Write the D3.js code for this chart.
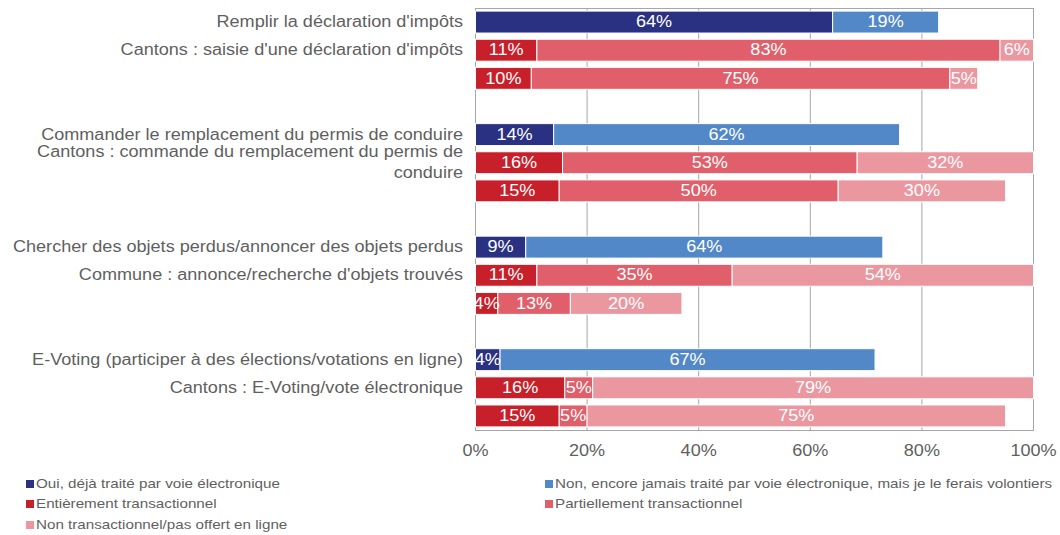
<!DOCTYPE html>
<html><head><meta charset="utf-8">
<script src="https://cdn.jsdelivr.net/npm/d3@7"></script>
<style>
html,body{margin:0;padding:0;background:#fff;}
svg{display:block;font-family:"Liberation Sans",Arial,sans-serif;}
</style></head>
<body><svg id="chart" width="1060" height="535"></svg>
<script>
// Row labels (empty strings are the spacer rows / unlabeled rows)
const categories = [
  "Remplir la déclaration d'impôts",
  "Cantons : saisie d'une déclaration d'impôts",
  "",
  "",
  "Commander le remplacement du permis de conduire",
  "Cantons : commande du remplacement du permis de\nconduire",
  "",
  "",
  "Chercher des objets perdus/annoncer des objets perdus",
  "Commune : annonce/recherche d'objets trouvés",
  "",
  "",
  "E-Voting (participer à des élections/votations en ligne)",
  "Cantons : E-Voting/vote électronique",
  ""
];
const seriesNames = [
  "Oui, déjà traité par voie électronique",
  "Non, encore jamais traité par voie électronique, mais je le ferais volontiers",
  "Entièrement transactionnel",
  "Partiellement transactionnel",
  "Non transactionnel/pas offert en ligne"
];
const oui      = [64, null, null, null, 14, null, null, null, 9, null, null, null, 4.4, null, null];
const non      = [19, null, null, null, 62, null, null, null, 64, null, null, null, 67.2, null, null];
const entier   = [null, 11, 10, null, null, 15.6, 15, null, null, 11, 4, null, null, 16, 15];
const partiel  = [null, 83, 75, null, null, 52.8, 50, null, null, 35, 13, null, null, 5, 5];
const nonTrans = [null, 6, 5, null, null, 31.6, 30, null, null, 54, 20, null, null, 79, 75];
const tickValues = [0, 20, 40, 60, 80, 100];

const colors = ["#2b3182", "#5288c7", "#c8202a", "#e05f6a", "#eb97a0"];
const seriesData = [oui, non, entier, partiel, nonTrans];

const SX = 1.13;      // horizontal stretch of text in the reference
const SXL = 1.17;     // legend text stretch

const svg = d3.select("#chart");
const margin = {left: 475, right: 27, top: 8, bottom: 105};
const W = 1060, H = 535;
const x = d3.scaleLinear().domain([0, 100]).range([margin.left, W - margin.right]);
const y = d3.scaleBand().domain(d3.range(categories.length))
  .range([margin.top, H - margin.bottom]).paddingInner(0.22).paddingOuter(0.11);

function stretchText(sel, tx, ty, sx) {
  return sel.attr("x", 0).attr("y", 0)
    .attr("transform", `translate(${tx},${ty}) scale(${sx},1)`);
}

const gridColor = "#a6a6a6";
svg.append("g").selectAll("line").data(tickValues.slice(1, -1)).join("line")
  .attr("x1", d => x(d) + 0.5).attr("x2", d => x(d) + 0.5)
  .attr("y1", margin.top).attr("y2", H - margin.bottom)
  .attr("stroke", gridColor).attr("stroke-width", 1);
svg.append("rect")
  .attr("x", x(0) + 0.5).attr("y", margin.top + 0.5)
  .attr("width", x(100) - x(0)).attr("height", H - margin.bottom - margin.top)
  .attr("fill", "none").attr("stroke", gridColor).attr("stroke-width", 1);

// stacked segments
const segs = [];
categories.forEach((c, i) => {
  let acc = 0;
  seriesData.forEach((arr, s) => {
    const v = arr[i];
    if (v == null) return;
    segs.push({row: i, s, x0: acc, x1: acc + v, v});
    acc += v;
  });
});
const g = svg.append("g");
g.selectAll("rect").data(segs).join("rect")
  .attr("x", d => x(d.x0) + 0.5)
  .attr("y", d => y(d.row))
  .attr("width", d => x(d.x1) - x(d.x0))
  .attr("height", y.bandwidth())
  .attr("fill", d => colors[d.s])
  .attr("stroke", "#fff").attr("stroke-width", 1);
g.selectAll("text").data(segs).join("text")
  .each(function(d) {
    stretchText(d3.select(this), (x(d.x0) + x(d.x1)) / 2 + 0.5, y(d.row) + y.bandwidth() / 2 + 1, SX);
  })
  .attr("text-anchor", "middle").attr("dominant-baseline", "middle")
  .attr("fill", "#fff").attr("font-size", 16)
  .text(d => Math.round(d.v) + "%");

// category labels
const labG = svg.append("g");
categories.forEach((c, i) => {
  if (!c) return;
  const lines = c.split("\n");
  const cy = y(i) + y.bandwidth() / 2;
  const lh = 21;
  lines.forEach((ln, k) => {
    const t = labG.append("text")
      .attr("text-anchor", "end").attr("dominant-baseline", "middle")
      .attr("fill", "#5f5f5f").attr("font-size", 16)
      .text(ln);
    stretchText(t, 463, cy + (k - (lines.length - 1) / 2) * lh + 1, SX);
  });
});

// x axis
const xAxis = d3.axisBottom(x).tickValues(tickValues).tickFormat(d => d + "%").tickSize(0).tickPadding(15);
const ax = svg.append("g").attr("transform", `translate(0.5,${H - margin.bottom})`).call(xAxis);
ax.select(".domain").remove();
ax.selectAll("text").attr("fill", "#5f5f5f").attr("font-size", 16)
  .attr("font-family", "Liberation Sans, Arial, sans-serif")
  .attr("transform", `scale(${SX},1)`)
  .attr("x", 0);
ax.selectAll(".tick").each(function(d) {
  d3.select(this).attr("transform", `translate(${x(d)},0)`);
});

// legend
const legendPos = [
  {x: 26, y: 484}, {x: 545, y: 484},
  {x: 26, y: 504}, {x: 545, y: 504},
  {x: 26, y: 525}
];
const lg = svg.append("g");
seriesNames.forEach((n, i) => {
  const p = legendPos[i];
  lg.append("rect").attr("x", p.x).attr("y", p.y - 4).attr("width", 8).attr("height", 8).attr("fill", colors[i]);
  const t = lg.append("text")
    .attr("dominant-baseline", "middle").attr("fill", "#5f5f5f")
    .attr("font-size", 13).text(n);
  stretchText(t, p.x + 10, p.y + 1, SXL);
});
</script></body></html>
